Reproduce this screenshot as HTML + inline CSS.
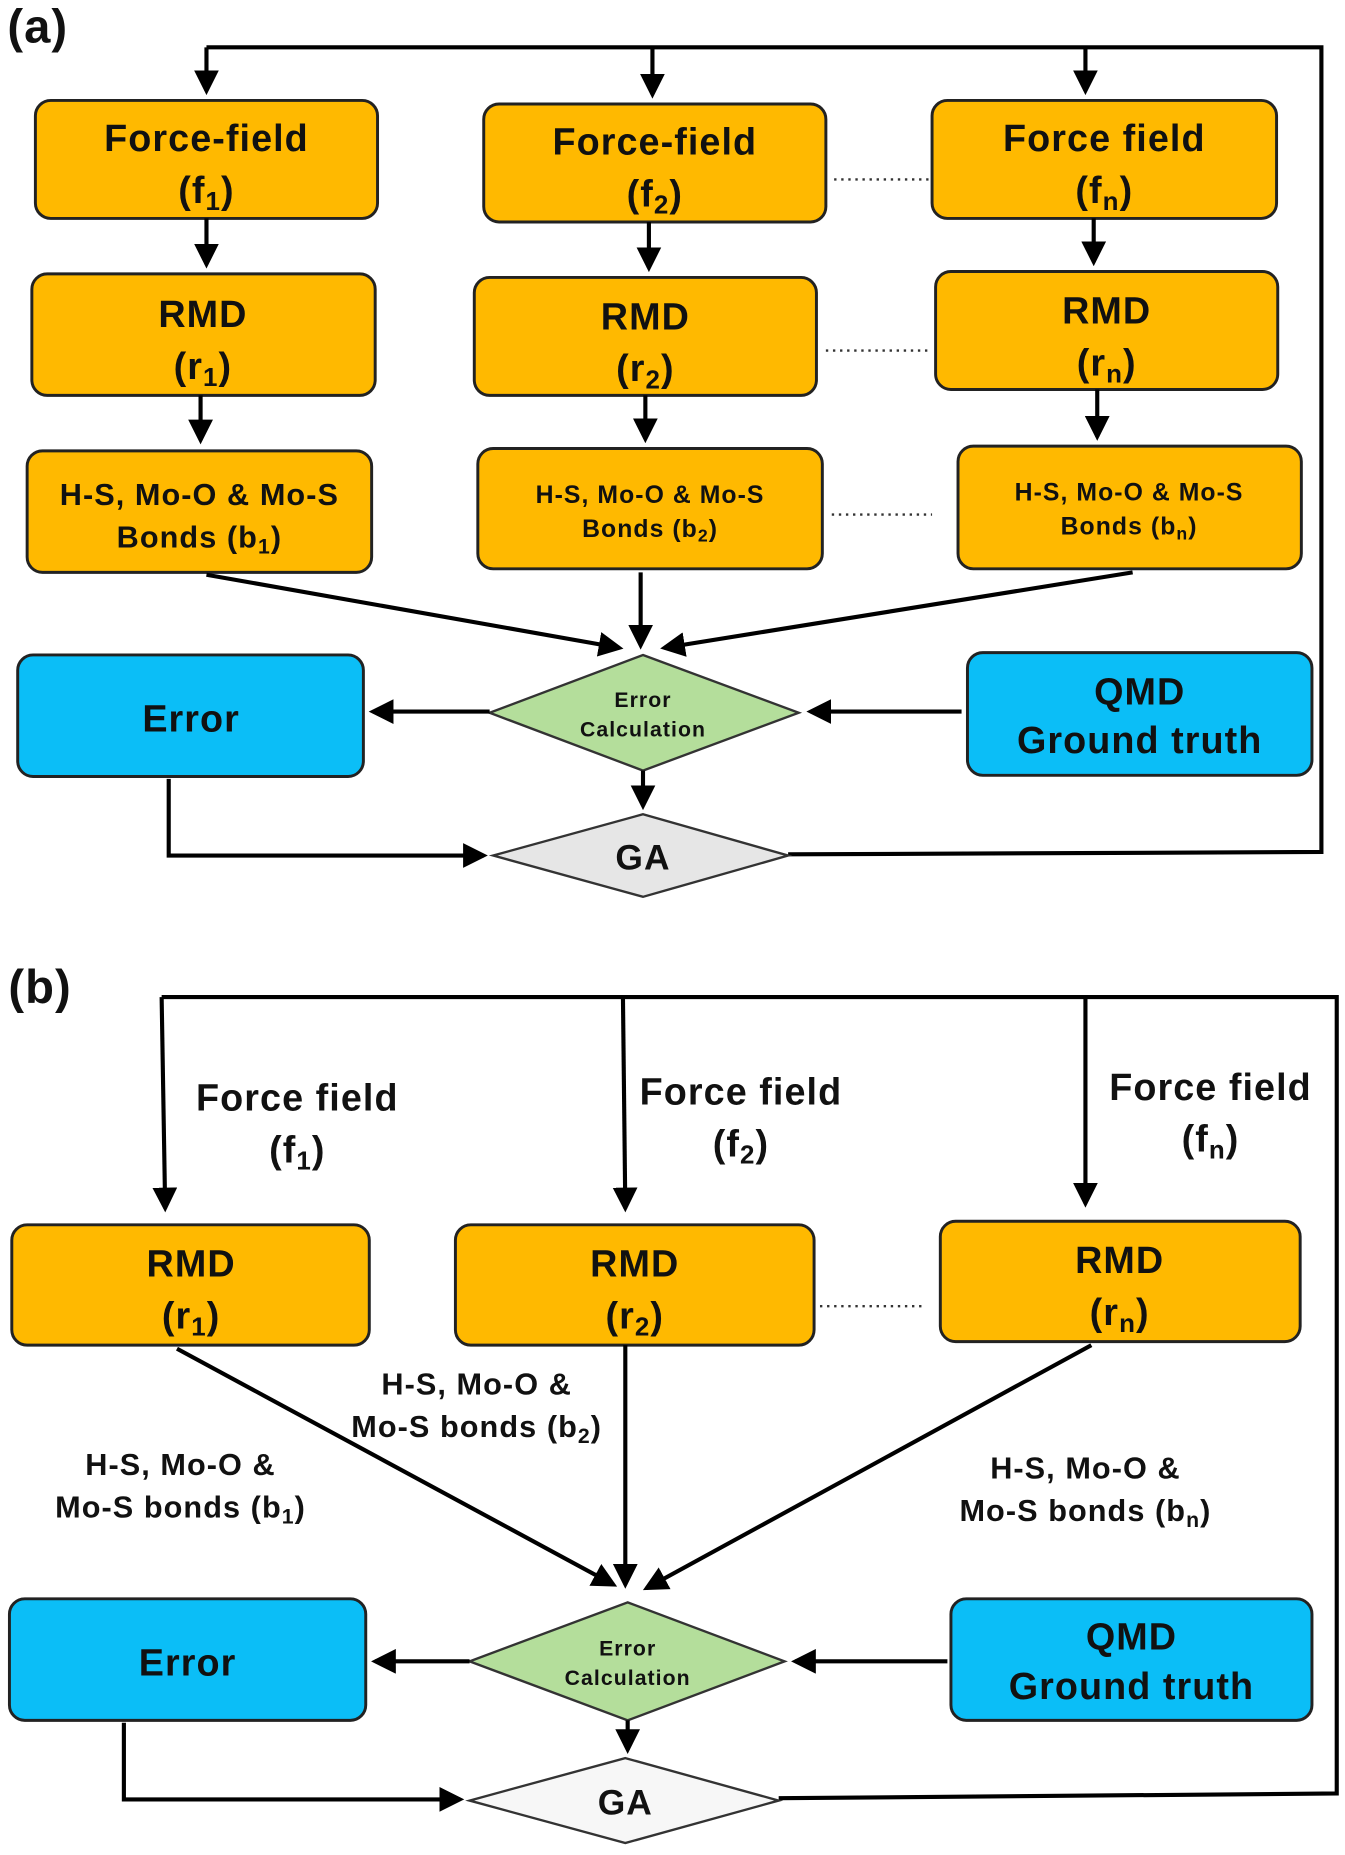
<!DOCTYPE html>
<html><head><meta charset="utf-8"><style>
html,body{margin:0;padding:0;background:#fff;}
svg{display:block;}
text{font-family:"Liberation Sans",Arial,sans-serif;font-weight:bold;fill:#111;text-anchor:middle;letter-spacing:0.9px;}
.bx{fill:#FFB900;stroke:#222;stroke-width:2.5;}
.bl{fill:#0BBEF7;stroke:#222;stroke-width:2.5;}
.ln{stroke:#000;stroke-width:3.5;fill:none;}
.dt{stroke:#333;stroke-width:2;stroke-dasharray:2,4;fill:none;}
</style></head><body>
<svg width="1345" height="1855" viewBox="0 0 1140 1572" xmlns="http://www.w3.org/2000/svg">
<defs>
<marker id="a" markerWidth="6" markerHeight="6" refX="5" refY="3" orient="auto" markerUnits="strokeWidth">
<path d="M0,0 L6,3 L0,6 z" fill="#000"/></marker>
</defs>
<!-- Panel a -->
<text x="32" y="36" font-size="40">(a)</text>
<polyline class="ln" points="175,40 1120,40 1120,722 668,724"/>
<line class="ln" x1="175" y1="40" x2="175" y2="77" marker-end="url(#a)"/>
<line class="ln" x1="553" y1="40" x2="553" y2="80" marker-end="url(#a)"/>
<line class="ln" x1="920" y1="40" x2="920" y2="77" marker-end="url(#a)"/>

<rect class="bx" x="30" y="85" width="290" height="100" rx="13"/>
<rect class="bx" x="410" y="88" width="290" height="100" rx="13"/>
<rect class="bx" x="790" y="85" width="292" height="100" rx="13"/>
<text x="175" y="128" font-size="32">Force-field</text>
<text x="175" y="172" font-size="32">(f<tspan font-size="22" dy="6">1</tspan><tspan dy="-6">)</tspan></text>
<text x="555" y="131" font-size="32">Force-field</text>
<text x="555" y="175" font-size="32">(f<tspan font-size="22" dy="6">2</tspan><tspan dy="-6">)</tspan></text>
<text x="936" y="128" font-size="32">Force field</text>
<text x="936" y="172" font-size="32">(f<tspan font-size="22" dy="6">n</tspan><tspan dy="-6">)</tspan></text>
<line class="dt" x1="707" y1="152" x2="787" y2="152"/>

<line class="ln" x1="175" y1="185" x2="175" y2="224" marker-end="url(#a)"/>
<line class="ln" x1="550" y1="188" x2="550" y2="227" marker-end="url(#a)"/>
<line class="ln" x1="927" y1="185" x2="927" y2="222" marker-end="url(#a)"/>

<rect class="bx" x="27" y="232" width="291" height="103" rx="13"/>
<rect class="bx" x="402" y="235" width="290" height="100" rx="13"/>
<rect class="bx" x="793" y="230" width="290" height="100" rx="13"/>
<text x="172" y="277" font-size="32">RMD</text>
<text x="172" y="321" font-size="32">(r<tspan font-size="22" dy="6">1</tspan><tspan dy="-6">)</tspan></text>
<text x="547" y="279" font-size="32">RMD</text>
<text x="547" y="323" font-size="32">(r<tspan font-size="22" dy="6">2</tspan><tspan dy="-6">)</tspan></text>
<text x="938" y="274" font-size="32">RMD</text>
<text x="938" y="318" font-size="32">(r<tspan font-size="22" dy="6">n</tspan><tspan dy="-6">)</tspan></text>
<line class="dt" x1="700" y1="297" x2="787" y2="297"/>

<line class="ln" x1="170" y1="335" x2="170" y2="373" marker-end="url(#a)"/>
<line class="ln" x1="547" y1="335" x2="547" y2="372" marker-end="url(#a)"/>
<line class="ln" x1="930" y1="330" x2="930" y2="370" marker-end="url(#a)"/>

<rect class="bx" x="23" y="382" width="292" height="103" rx="13"/>
<rect class="bx" x="405" y="380" width="292" height="102" rx="13"/>
<rect class="bx" x="812" y="378" width="291" height="104" rx="13"/>
<text x="169" y="428" font-size="26">H-S, Mo-O &amp; Mo-S</text>
<text x="169" y="464" font-size="26">Bonds (b<tspan font-size="18" dy="5">1</tspan><tspan dy="-5">)</tspan></text>
<text x="551" y="426" font-size="21">H-S, Mo-O &amp; Mo-S</text>
<text x="551" y="455" font-size="21">Bonds (b<tspan font-size="15" dy="4">2</tspan><tspan dy="-4">)</tspan></text>
<text x="957" y="424" font-size="21">H-S, Mo-O &amp; Mo-S</text>
<text x="957" y="453" font-size="21">Bonds (b<tspan font-size="15" dy="4">n</tspan><tspan dy="-4">)</tspan></text>
<line class="dt" x1="705" y1="436" x2="790" y2="436"/>

<line class="ln" x1="175" y1="487" x2="525" y2="549" marker-end="url(#a)"/>
<line class="ln" x1="543" y1="485" x2="543" y2="547" marker-end="url(#a)"/>
<line class="ln" x1="960" y1="485" x2="563" y2="549" marker-end="url(#a)"/>

<rect class="bl" x="15" y="555" width="293" height="103" rx="13"/>
<text x="162" y="620" font-size="32">Error</text>
<rect class="bl" x="820" y="553" width="292" height="104" rx="13"/>
<text x="966" y="597" font-size="32">QMD</text>
<text x="966" y="638" font-size="32">Ground truth</text>
<polygon points="545,555 677,604 545,653 415,604" fill="#B4DE9B" stroke="#333" stroke-width="2"/>
<text x="545" y="599" font-size="18">Error</text>
<text x="545" y="624" font-size="18">Calculation</text>
<line class="ln" x1="415" y1="603" x2="316" y2="603" marker-end="url(#a)"/>
<line class="ln" x1="815" y1="603" x2="687" y2="603" marker-end="url(#a)"/>
<line class="ln" x1="545" y1="653" x2="545" y2="683" marker-end="url(#a)"/>
<polygon points="545,690 668,725 545,760 418,725" fill="#E6E6E6" stroke="#333" stroke-width="2"/>
<text x="545" y="737" font-size="30">GA</text>
<polyline class="ln" points="143,660 143,725 410,725" marker-end="url(#a)"/>

<!-- Panel b -->
<text x="34" y="850" font-size="40">(b)</text>
<polyline class="ln" points="137,845 1133,845 1133,1520 660,1524"/>
<line class="ln" x1="137" y1="845" x2="140" y2="1024" marker-end="url(#a)"/>
<line class="ln" x1="528" y1="845" x2="530" y2="1024" marker-end="url(#a)"/>
<line class="ln" x1="920" y1="845" x2="920" y2="1020" marker-end="url(#a)"/>
<text x="252" y="941" font-size="32">Force field</text>
<text x="252" y="985" font-size="32">(f<tspan font-size="22" dy="6">1</tspan><tspan dy="-6">)</tspan></text>
<text x="628" y="936" font-size="32">Force field</text>
<text x="628" y="980" font-size="32">(f<tspan font-size="22" dy="6">2</tspan><tspan dy="-6">)</tspan></text>
<text x="1026" y="932" font-size="32">Force field</text>
<text x="1026" y="976" font-size="32">(f<tspan font-size="22" dy="6">n</tspan><tspan dy="-6">)</tspan></text>

<rect class="bx" x="10" y="1038" width="303" height="102" rx="13"/>
<rect class="bx" x="386" y="1038" width="304" height="102" rx="13"/>
<rect class="bx" x="797" y="1035" width="305" height="102" rx="13"/>
<text x="162" y="1082" font-size="32">RMD</text>
<text x="162" y="1126" font-size="32">(r<tspan font-size="22" dy="6">1</tspan><tspan dy="-6">)</tspan></text>
<text x="538" y="1082" font-size="32">RMD</text>
<text x="538" y="1126" font-size="32">(r<tspan font-size="22" dy="6">2</tspan><tspan dy="-6">)</tspan></text>
<text x="949" y="1079" font-size="32">RMD</text>
<text x="949" y="1123" font-size="32">(r<tspan font-size="22" dy="6">n</tspan><tspan dy="-6">)</tspan></text>
<line class="dt" x1="695" y1="1107" x2="785" y2="1107"/>

<line class="ln" x1="150" y1="1143" x2="520" y2="1343" marker-end="url(#a)"/>
<line class="ln" x1="530" y1="1140" x2="530" y2="1343" marker-end="url(#a)"/>
<line class="ln" x1="925" y1="1140" x2="548" y2="1346" marker-end="url(#a)"/>
<text x="153" y="1250" font-size="26">H-S, Mo-O &amp;</text>
<text x="153" y="1286" font-size="26">Mo-S bonds (b<tspan font-size="18" dy="5">1</tspan><tspan dy="-5">)</tspan></text>
<text x="404" y="1182" font-size="26">H-S, Mo-O &amp;</text>
<text x="404" y="1218" font-size="26">Mo-S bonds (b<tspan font-size="18" dy="5">2</tspan><tspan dy="-5">)</tspan></text>
<text x="920" y="1253" font-size="26">H-S, Mo-O &amp;</text>
<text x="920" y="1289" font-size="26">Mo-S bonds (b<tspan font-size="18" dy="5">n</tspan><tspan dy="-5">)</tspan></text>

<rect class="bl" x="8" y="1355" width="302" height="103" rx="13"/>
<text x="159" y="1420" font-size="32">Error</text>
<rect class="bl" x="806" y="1355" width="306" height="103" rx="13"/>
<text x="959" y="1398" font-size="32">QMD</text>
<text x="959" y="1440" font-size="32">Ground truth</text>
<polygon points="532,1358 665,1408 532,1458 398,1408" fill="#B4DE9B" stroke="#333" stroke-width="2"/>
<text x="532" y="1403" font-size="18">Error</text>
<text x="532" y="1428" font-size="18">Calculation</text>
<line class="ln" x1="398" y1="1408" x2="318" y2="1408" marker-end="url(#a)"/>
<line class="ln" x1="803" y1="1408" x2="674" y2="1408" marker-end="url(#a)"/>
<line class="ln" x1="532" y1="1458" x2="532" y2="1483" marker-end="url(#a)"/>
<polygon points="530,1490 660,1526 530,1562 398,1526" fill="#F7F7F7" stroke="#333" stroke-width="2"/>
<text x="530" y="1538" font-size="30">GA</text>
<polyline class="ln" points="105,1460 105,1525 390,1525" marker-end="url(#a)"/>
</svg>
</body></html>
